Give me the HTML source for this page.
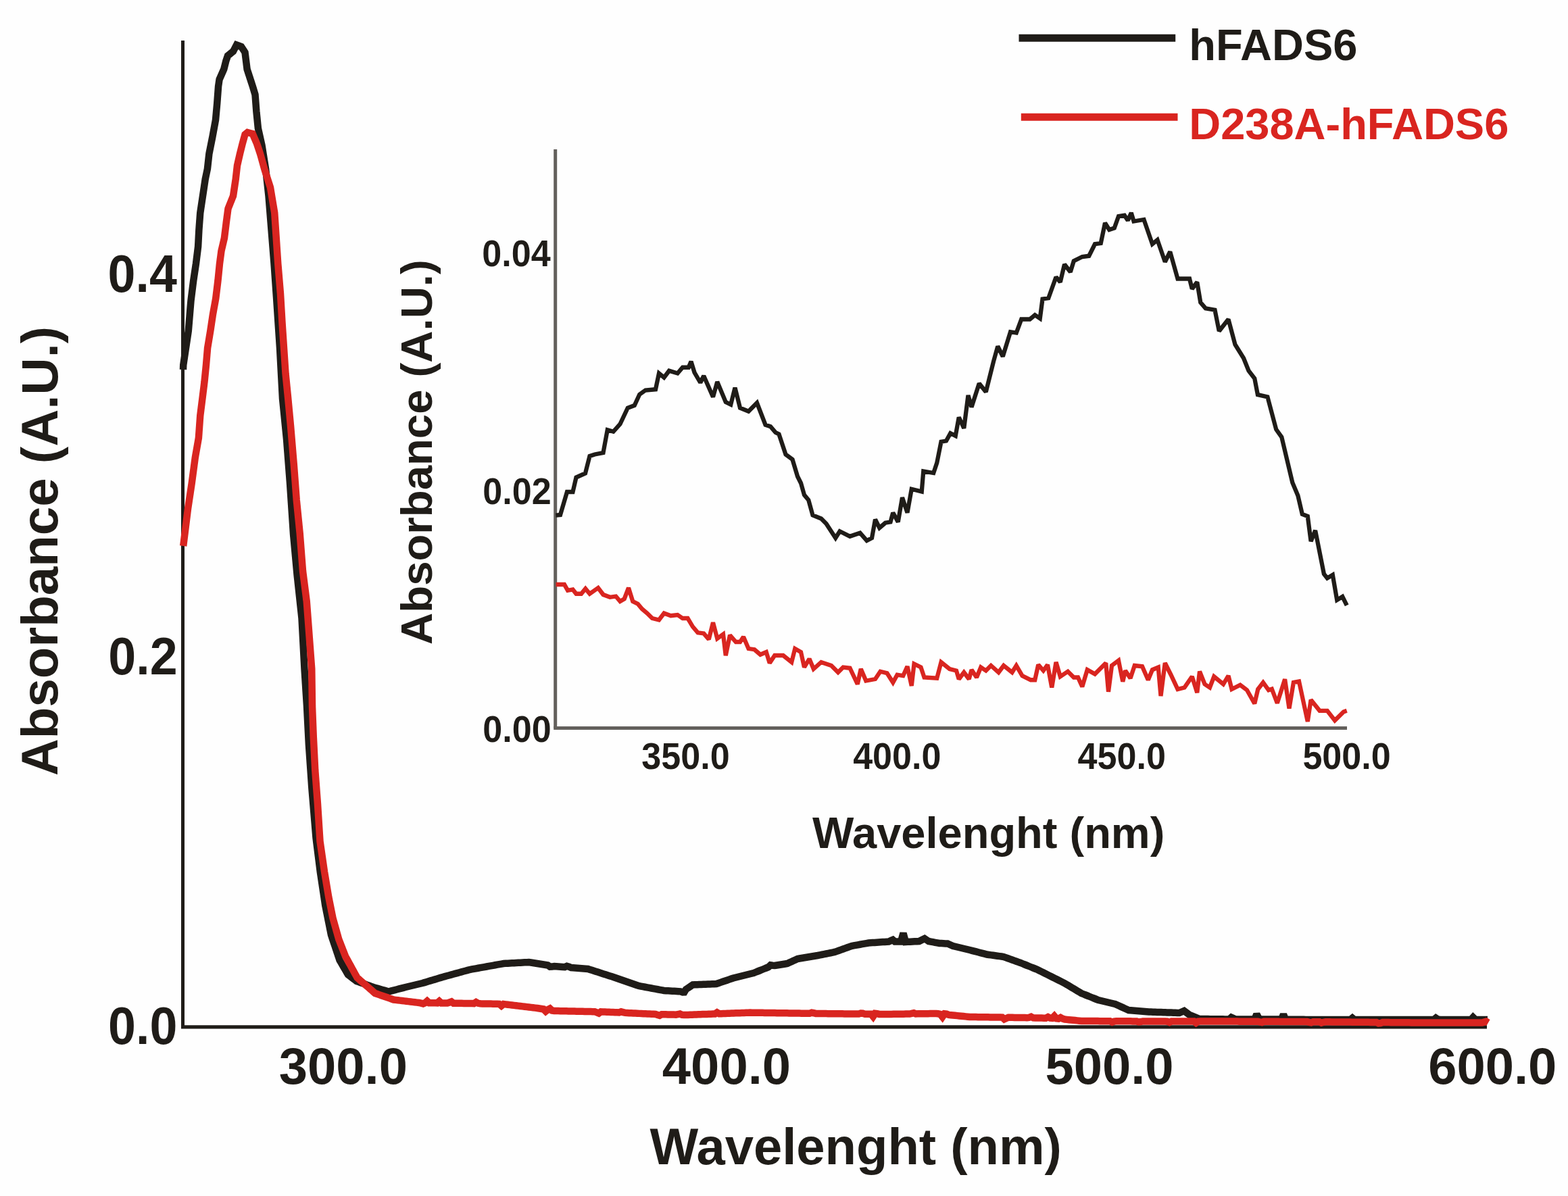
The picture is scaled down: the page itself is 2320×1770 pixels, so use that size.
<!DOCTYPE html>
<html><head><meta charset="utf-8"><title>Absorbance spectra hFADS6</title>
<style>html,body{margin:0;padding:0;background:#fefefe;} svg{display:block;}</style></head>
<body><svg width="2320" height="1770" viewBox="0 0 2320 1770">
<rect width="2320" height="1770" fill="#fefefe"/>
<line x1="270.5" y1="60" x2="270.5" y2="1520" stroke="#1f1c18" stroke-width="5"/>
<line x1="268" y1="1519.8" x2="2200" y2="1519.8" stroke="#1f1c18" stroke-width="5.2"/>
<line x1="821.7" y1="221" x2="821.7" y2="1077.6" stroke="#63605c" stroke-width="5"/>
<line x1="819.2" y1="1077.6" x2="1993" y2="1077.6" stroke="#63605c" stroke-width="5"/>
<polyline points="271.00,547.00 271.12,543.50 271.25,540.00 271.72,536.88 272.19,533.75 272.66,530.62 273.12,527.50 273.59,524.38 274.06,521.25 274.53,518.12 275.00,515.00 275.47,511.88 275.94,508.75 276.41,505.62 276.88,502.50 277.34,499.38 277.81,496.25 278.28,493.12 278.75,490.00 279.00,487.00 279.25,484.00 279.50,481.00 279.75,478.00 280.00,475.00 280.25,472.00 280.50,469.00 280.75,466.00 281.00,463.00 281.25,460.00 281.50,457.00 281.75,454.00 282.00,451.00 282.25,448.00 282.50,445.00 282.88,442.00 283.25,439.00 283.62,436.00 284.00,433.00 284.38,430.00 284.75,427.00 285.12,424.00 285.50,421.00 285.88,418.00 286.25,415.00 286.72,411.88 287.19,408.75 287.66,405.62 288.12,402.50 288.59,399.38 289.06,396.25 289.53,393.12 290.00,390.00 290.39,386.88 290.77,383.75 291.16,380.62 291.55,377.50 291.94,374.38 292.33,371.25 292.71,368.12 293.10,365.00 293.26,361.88 293.43,358.75 293.59,355.62 293.75,352.50 293.91,349.38 294.07,346.25 294.24,343.12 294.40,340.00 294.63,336.88 294.86,333.75 295.09,330.62 295.32,327.50 295.56,324.38 295.79,321.25 296.02,318.12 296.25,315.00 296.72,311.88 297.19,308.75 297.66,305.62 298.12,302.50 298.59,299.38 299.06,296.25 299.53,293.12 300.00,290.00 300.47,286.88 300.94,283.75 301.41,280.62 301.88,277.50 302.34,274.38 302.81,271.25 303.28,268.12 303.75,265.00 304.38,262.00 305.01,259.00 305.64,256.00 306.27,253.00 306.90,250.00 307.26,246.79 307.61,243.57 307.97,240.36 308.33,237.14 308.69,233.93 309.04,230.71 309.40,227.50 310.02,224.38 310.65,221.25 311.27,218.12 311.90,215.00 312.52,211.88 313.15,208.75 313.77,205.62 314.40,202.50 314.97,199.38 315.55,196.25 316.12,193.12 316.70,190.00 317.27,186.88 317.85,183.75 318.43,180.62 319.00,177.50 319.28,174.38 319.56,171.25 319.84,168.12 320.12,165.00 320.41,161.88 320.69,158.75 320.97,155.62 321.25,152.50 321.48,149.38 321.71,146.25 321.94,143.12 322.18,140.00 322.41,136.88 322.64,133.75 322.87,130.62 323.10,127.50 323.60,124.17 324.10,120.83 324.60,117.50 325.93,114.50 327.26,111.50 328.59,108.50 329.92,105.50 331.25,102.50 332.04,99.38 332.82,96.25 333.61,93.12 334.40,90.00 335.70,86.25 337.00,82.50 339.67,80.33 342.33,78.17 345.00,76.00 346.67,72.83 348.33,69.67 350.00,66.50 353.50,67.75 357.00,69.00 358.83,71.83 360.67,74.67 362.50,77.50 362.89,80.62 363.27,83.75 363.66,86.88 364.05,90.00 364.44,93.12 364.83,96.25 365.21,99.38 365.60,102.50 366.62,105.62 367.64,108.75 368.66,111.88 369.68,115.00 370.69,118.12 371.71,121.25 372.73,124.38 373.75,127.50 374.69,130.62 375.62,133.75 376.56,136.88 377.50,140.00 377.74,143.12 377.98,146.25 378.21,149.38 378.45,152.50 378.69,155.62 378.92,158.75 379.16,161.88 379.40,165.00 379.71,168.12 380.02,171.25 380.34,174.38 380.65,177.50 380.96,180.62 381.27,183.75 381.59,186.88 381.90,190.00 382.60,193.12 383.30,196.25 384.00,199.38 384.70,202.50 385.40,205.62 386.10,208.75 386.80,211.88 387.50,215.00 388.01,218.18 388.52,221.36 389.03,224.55 389.54,227.73 390.05,230.91 390.55,234.09 391.06,237.27 391.57,240.45 392.08,243.64 392.59,246.82 393.10,250.00 393.44,253.08 393.78,256.15 394.12,259.23 394.45,262.31 394.79,265.38 395.13,268.46 395.47,271.54 395.81,274.62 396.15,277.69 396.48,280.77 396.82,283.85 397.16,286.92 397.50,290.00 397.75,293.12 398.00,296.25 398.25,299.38 398.50,302.50 398.75,305.62 399.00,308.75 399.25,311.88 399.50,315.00 399.75,318.12 400.00,321.25 400.25,324.38 400.50,327.50 400.75,330.62 401.00,333.75 401.25,336.88 401.50,340.00 401.75,343.12 402.00,346.25 402.25,349.38 402.50,352.50 402.75,355.62 403.00,358.75 403.25,361.88 403.50,365.00 403.75,368.12 404.00,371.25 404.25,374.38 404.50,377.50 404.75,380.62 405.00,383.75 405.25,386.88 405.50,390.00 405.72,393.12 405.94,396.25 406.16,399.38 406.38,402.50 406.59,405.62 406.81,408.75 407.03,411.88 407.25,415.00 407.47,418.12 407.69,421.25 407.91,424.38 408.12,427.50 408.34,430.62 408.56,433.75 408.78,436.88 409.00,440.00 409.20,443.00 409.40,446.00 409.60,449.00 409.80,452.00 410.00,455.00 410.20,458.00 410.40,461.00 410.60,464.00 410.80,467.00 411.00,470.00 411.20,473.00 411.40,476.00 411.60,479.00 411.80,482.00 412.00,485.00 412.20,488.00 412.40,491.00 412.60,494.00 412.80,497.00 413.00,500.00 413.20,503.00 413.40,506.00 413.60,509.00 413.80,512.00 414.00,515.00 414.16,518.00 414.32,521.00 414.48,524.00 414.64,527.00 414.80,530.00 414.96,533.00 415.12,536.00 415.28,539.00 415.44,542.00 415.60,545.00 415.76,548.00 415.92,551.00 416.08,554.00 416.24,557.00 416.40,560.00 416.56,563.00 416.72,566.00 416.88,569.00 417.04,572.00 417.20,575.00 417.36,578.00 417.52,581.00 417.68,584.00 417.84,587.00 418.00,590.00 418.30,593.00 418.60,596.00 418.90,599.00 419.20,602.00 419.50,605.00 419.80,608.00 420.10,611.00 420.40,614.00 420.70,617.00 421.00,620.00 421.30,623.00 421.60,626.00 421.90,629.00 422.20,632.00 422.50,635.00 422.80,638.00 423.10,641.00 423.40,644.00 423.70,647.00 424.00,650.00 424.24,653.10 424.48,656.19 424.71,659.29 424.95,662.38 425.19,665.48 425.43,668.57 425.67,671.67 425.90,674.76 426.14,677.86 426.38,680.95 426.62,684.05 426.86,687.14 427.10,690.24 427.33,693.33 427.57,696.43 427.81,699.52 428.05,702.62 428.29,705.71 428.52,708.81 428.76,711.90 429.00,715.00 429.20,718.00 429.40,721.00 429.60,724.00 429.80,727.00 430.00,730.00 430.20,733.00 430.40,736.00 430.60,739.00 430.80,742.00 431.00,745.00 431.20,748.00 431.40,751.00 431.60,754.00 431.80,757.00 432.00,760.00 432.20,763.00 432.40,766.00 432.60,769.00 432.80,772.00 433.00,775.00 433.20,778.00 433.40,781.00 433.60,784.00 433.80,787.00 434.00,790.00 434.27,793.00 434.55,796.00 434.82,799.00 435.10,802.00 435.38,805.00 435.65,808.00 435.93,811.00 436.20,814.00 436.48,817.00 436.75,820.00 437.02,823.00 437.30,826.00 437.57,829.00 437.85,832.00 438.12,835.00 438.40,838.00 438.68,841.00 438.95,844.00 439.23,847.00 439.50,850.00 439.83,853.10 440.17,856.19 440.50,859.29 440.83,862.38 441.17,865.48 441.50,868.57 441.83,871.67 442.17,874.76 442.50,877.86 442.83,880.95 443.17,884.05 443.50,887.14 443.83,890.24 444.17,893.33 444.50,896.43 444.83,899.52 445.17,902.62 445.50,905.71 445.83,908.81 446.17,911.90 446.50,915.00 446.66,918.00 446.82,921.00 446.98,924.00 447.14,927.00 447.30,930.00 447.46,933.00 447.62,936.00 447.78,939.00 447.94,942.00 448.10,945.00 448.26,948.00 448.42,951.00 448.58,954.00 448.74,957.00 448.90,960.00 449.06,963.00 449.22,966.00 449.38,969.00 449.54,972.00 449.70,975.00 449.86,978.00 450.02,981.00 450.18,984.00 450.34,987.00 450.50,990.00 450.69,993.06 450.89,996.11 451.08,999.17 451.28,1002.22 451.47,1005.28 451.67,1008.33 451.86,1011.39 452.06,1014.44 452.25,1017.50 452.44,1020.56 452.64,1023.61 452.83,1026.67 453.03,1029.72 453.22,1032.78 453.42,1035.83 453.61,1038.89 453.81,1041.94 454.00,1045.00 454.15,1048.00 454.31,1051.00 454.46,1054.00 454.61,1057.00 454.76,1060.00 454.92,1063.00 455.07,1066.00 455.22,1069.00 455.37,1072.00 455.53,1075.00 455.68,1078.00 455.83,1081.00 455.98,1084.00 456.14,1087.00 456.29,1090.00 456.44,1093.00 456.59,1096.00 456.75,1099.00 456.90,1102.00 457.11,1105.00 457.31,1108.00 457.52,1111.00 457.73,1114.00 457.94,1117.00 458.14,1120.00 458.35,1123.00 458.56,1126.00 458.76,1129.00 458.97,1132.00 459.18,1135.00 459.39,1138.00 459.59,1141.00 459.80,1144.00 460.01,1147.00 460.21,1150.00 460.42,1153.00 460.63,1156.00 460.84,1159.00 461.04,1162.00 461.25,1165.00 461.50,1168.00 461.75,1171.00 462.00,1174.00 462.25,1177.00 462.50,1180.00 462.75,1183.00 463.00,1186.00 463.25,1189.00 463.50,1192.00 463.75,1195.00 464.00,1198.00 464.25,1201.00 464.50,1204.00 464.75,1207.00 465.00,1210.00 465.25,1213.00 465.50,1216.00 465.75,1219.00 466.00,1222.00 466.25,1225.00 466.50,1228.00 466.75,1231.00 467.00,1234.00 467.25,1237.00 467.50,1240.00 467.89,1243.12 468.28,1246.25 468.67,1249.38 469.06,1252.50 469.45,1255.62 469.84,1258.75 470.23,1261.88 470.62,1265.00 471.02,1268.12 471.41,1271.25 471.80,1274.38 472.19,1277.50 472.58,1280.62 472.97,1283.75 473.36,1286.88 473.75,1290.00 474.22,1293.12 474.69,1296.25 475.16,1299.38 475.62,1302.50 476.09,1305.62 476.56,1308.75 477.03,1311.88 477.50,1315.00 477.97,1318.12 478.44,1321.25 478.91,1324.38 479.38,1327.50 479.84,1330.62 480.31,1333.75 480.78,1336.88 481.25,1340.00 481.88,1343.12 482.50,1346.25 483.12,1349.38 483.75,1352.50 484.38,1355.62 485.00,1358.75 485.62,1361.88 486.25,1365.00 486.88,1368.12 487.50,1371.25 488.12,1374.38 488.75,1377.50 489.38,1380.62 490.00,1383.75 490.96,1386.62 491.92,1389.48 492.88,1392.35 493.85,1395.21 494.81,1398.08 495.77,1400.94 496.73,1403.81 497.69,1406.67 498.65,1409.54 499.62,1412.40 500.58,1415.27 501.54,1418.13 502.50,1421.00 504.06,1423.69 505.62,1426.38 507.19,1429.06 508.75,1431.75 510.31,1434.44 511.88,1437.12 513.44,1439.81 515.00,1442.50 517.50,1444.40 520.00,1446.30 522.50,1448.20 525.00,1450.10 527.50,1452.00 530.62,1453.12 533.75,1454.25 536.88,1455.38 540.00,1456.50 543.12,1457.62 546.25,1458.75 549.38,1459.88 552.50,1461.00 555.71,1461.93 558.93,1462.86 562.14,1463.79 565.36,1464.71 568.57,1465.64 571.79,1466.57 575.00,1467.50 578.12,1466.69 581.25,1465.88 584.38,1465.06 587.50,1464.25 590.62,1463.44 593.75,1462.62 596.88,1461.81 600.00,1461.00 603.12,1460.25 606.25,1459.50 609.38,1458.75 612.50,1458.00 615.62,1457.25 618.75,1456.50 621.88,1455.75 625.00,1455.00 628.00,1454.10 631.00,1453.20 634.00,1452.30 637.00,1451.40 640.00,1450.50 643.00,1449.60 646.00,1448.70 649.00,1447.80 652.00,1446.90 655.00,1446.00 658.08,1445.15 661.15,1444.31 664.23,1443.46 667.31,1442.62 670.38,1441.77 673.46,1440.92 676.54,1440.08 679.62,1439.23 682.69,1438.38 685.77,1437.54 688.85,1436.69 691.92,1435.85 695.00,1435.00 698.12,1434.44 701.25,1433.88 704.38,1433.31 707.50,1432.75 710.62,1432.19 713.75,1431.62 716.88,1431.06 720.00,1430.50 723.12,1429.94 726.25,1429.38 729.38,1428.81 732.50,1428.25 735.62,1427.69 738.75,1427.12 741.88,1426.56 745.00,1426.00 748.12,1425.83 751.25,1425.67 754.38,1425.50 757.50,1425.33 760.62,1425.17 763.75,1425.00 766.88,1424.83 770.00,1424.67 773.12,1424.50 776.25,1424.33 779.38,1424.17 782.50,1424.00 785.62,1424.50 788.75,1425.00 791.88,1425.50 795.00,1426.00 798.12,1426.50 801.25,1427.00 804.38,1427.50 807.50,1428.00 810.62,1428.50 813.75,1430.75 816.88,1430.62 820.00,1430.00 823.12,1430.25 826.25,1430.50 829.38,1430.75 832.50,1431.00 835.62,1431.25 838.75,1429.75 841.88,1430.62 845.00,1432.00 848.12,1432.25 851.25,1432.50 854.38,1432.75 857.50,1433.00 860.62,1433.25 863.75,1433.50 866.88,1433.75 870.00,1434.00 872.88,1434.92 875.77,1435.85 878.65,1436.77 881.54,1437.69 884.42,1438.62 887.31,1439.54 890.19,1440.46 893.08,1441.38 895.96,1442.31 898.85,1443.23 901.73,1444.15 904.62,1445.08 907.50,1446.00 910.38,1447.00 913.27,1448.00 916.15,1449.00 919.04,1450.00 921.92,1451.00 924.81,1452.00 927.69,1453.00 930.58,1454.00 933.46,1455.00 936.35,1456.00 939.23,1457.00 942.12,1458.00 945.00,1459.00 948.12,1459.58 951.25,1460.17 954.38,1460.75 957.50,1461.33 960.62,1461.92 963.75,1462.50 966.88,1463.08 970.00,1463.67 973.12,1464.25 976.25,1464.83 979.38,1465.42 982.50,1466.00 985.56,1466.17 988.61,1466.33 991.67,1466.50 994.72,1466.67 997.78,1466.83 1000.83,1467.00 1003.89,1467.17 1006.94,1467.33 1010.00,1468.50 1012.50,1468.33 1015.00,1464.17 1017.50,1462.50 1020.00,1460.83 1022.50,1459.17 1025.00,1457.50 1028.18,1457.36 1031.36,1457.23 1034.55,1457.09 1037.73,1456.95 1040.91,1456.82 1044.09,1456.68 1047.27,1456.55 1050.45,1456.41 1053.64,1456.27 1056.82,1456.14 1060.00,1456.00 1063.12,1454.94 1066.25,1453.88 1069.38,1452.81 1072.50,1451.75 1075.62,1450.69 1078.75,1449.62 1081.88,1448.56 1085.00,1447.50 1088.00,1446.75 1091.00,1446.00 1094.00,1445.25 1097.00,1444.50 1100.00,1443.75 1103.00,1443.00 1106.00,1442.25 1109.00,1441.50 1112.00,1440.75 1115.00,1440.00 1118.12,1438.75 1121.25,1437.50 1124.38,1436.25 1127.50,1435.00 1130.62,1433.75 1133.75,1432.50 1136.88,1431.25 1140.00,1428.33 1143.12,1428.77 1146.25,1429.00 1149.38,1428.50 1152.50,1428.00 1155.62,1427.50 1158.75,1427.00 1161.88,1426.50 1165.00,1426.00 1168.00,1424.60 1171.00,1423.20 1174.00,1421.80 1177.00,1420.40 1180.00,1419.00 1183.00,1418.50 1186.00,1418.00 1189.00,1417.50 1192.00,1417.00 1195.00,1416.50 1198.00,1416.00 1201.00,1415.50 1204.00,1415.00 1207.00,1414.50 1210.00,1414.00 1213.12,1413.38 1216.25,1412.75 1219.38,1412.12 1222.50,1411.50 1225.62,1410.88 1228.75,1410.25 1231.88,1409.62 1235.00,1409.00 1238.12,1407.88 1241.25,1406.75 1244.38,1405.62 1247.50,1404.50 1250.62,1403.38 1253.75,1402.25 1256.88,1401.12 1260.00,1400.00 1263.12,1399.44 1266.25,1398.88 1269.38,1398.31 1272.50,1397.75 1275.62,1397.19 1278.75,1396.62 1281.88,1396.06 1285.00,1395.50 1288.00,1395.30 1291.00,1395.10 1294.00,1394.90 1297.00,1394.70 1300.00,1394.50 1303.00,1394.30 1306.00,1394.10 1309.00,1393.90 1312.00,1393.70 1315.00,1393.50 1318.00,1392.17 1321.00,1390.83 1324.00,1393.50 1327.00,1393.50 1330.00,1393.50 1333.00,1393.50 1333.88,1390.38 1334.75,1387.25 1335.62,1384.12 1336.50,1381.00 1337.38,1384.25 1338.25,1387.50 1339.12,1390.75 1340.00,1394.00 1343.33,1393.83 1346.67,1393.67 1350.00,1393.50 1353.33,1393.33 1356.67,1393.17 1360.00,1393.00 1364.00,1391.00 1368.00,1389.00 1371.00,1391.00 1374.00,1393.00 1377.20,1393.60 1380.40,1394.20 1383.60,1394.80 1386.80,1395.40 1390.00,1396.00 1393.00,1396.12 1396.00,1396.25 1399.00,1396.38 1402.00,1396.50 1406.00,1398.25 1410.00,1400.00 1413.12,1400.75 1416.25,1401.50 1419.38,1402.25 1422.50,1403.00 1425.62,1403.75 1428.75,1404.50 1431.88,1405.25 1435.00,1406.00 1438.12,1406.81 1441.25,1407.62 1444.38,1408.44 1447.50,1409.25 1450.62,1410.06 1453.75,1410.88 1456.88,1411.69 1460.00,1412.50 1463.12,1412.94 1466.25,1413.38 1469.38,1413.81 1472.50,1414.25 1475.62,1414.69 1478.75,1415.12 1481.88,1415.56 1485.00,1416.00 1488.12,1417.12 1491.25,1418.25 1494.38,1419.38 1497.50,1420.50 1500.62,1421.62 1503.75,1422.75 1506.88,1423.88 1510.00,1425.00 1513.12,1426.25 1516.25,1427.50 1519.38,1428.75 1522.50,1430.00 1525.62,1431.25 1528.75,1432.50 1531.88,1433.75 1535.00,1435.00 1537.86,1436.43 1540.71,1437.86 1543.57,1439.29 1546.43,1440.71 1549.29,1442.14 1552.14,1443.57 1555.00,1445.00 1557.86,1446.43 1560.71,1447.86 1563.57,1449.29 1566.43,1450.71 1569.29,1452.14 1572.14,1453.57 1575.00,1455.00 1577.78,1456.67 1580.56,1458.33 1583.33,1460.00 1586.11,1461.67 1588.89,1463.33 1591.67,1465.00 1594.44,1466.67 1597.22,1468.33 1600.00,1470.00 1603.12,1471.25 1606.25,1472.50 1609.38,1473.75 1612.50,1475.00 1615.62,1476.25 1618.75,1477.50 1621.88,1478.75 1625.00,1480.00 1628.12,1480.75 1631.25,1481.50 1634.38,1482.25 1637.50,1483.00 1640.62,1483.75 1643.75,1484.50 1646.88,1485.25 1650.00,1486.00 1652.86,1487.29 1655.71,1488.57 1658.57,1489.86 1661.43,1491.14 1664.29,1492.43 1667.14,1493.71 1670.00,1495.00 1673.00,1495.25 1676.00,1495.50 1679.00,1495.75 1682.00,1496.00 1685.00,1496.25 1688.00,1496.50 1691.00,1496.75 1694.00,1497.00 1697.00,1497.25 1700.00,1497.50 1703.00,1497.60 1706.00,1497.70 1709.00,1497.80 1712.00,1497.90 1715.00,1498.00 1718.00,1498.10 1721.00,1498.20 1724.00,1498.30 1727.00,1498.40 1730.00,1498.50 1733.00,1498.60 1736.00,1498.70 1739.00,1498.80 1742.00,1498.90 1745.00,1499.00 1748.50,1497.50 1752.00,1496.00 1754.67,1498.00 1757.33,1500.00 1760.00,1502.00 1763.00,1503.20 1766.00,1504.40 1769.00,1505.60 1772.00,1506.80 1775.00,1508.00 1778.12,1508.03 1781.25,1508.06 1784.38,1508.09 1787.50,1508.12 1790.62,1508.16 1793.75,1508.19 1796.88,1508.22 1800.00,1508.25 1803.12,1508.28 1806.25,1508.31 1809.38,1508.34 1812.50,1508.38 1815.62,1508.41 1818.75,1508.44 1821.88,1505.66 1825.00,1507.00 1828.12,1508.50 1831.25,1508.50 1834.38,1508.50 1837.50,1508.50 1840.62,1508.50 1843.75,1508.50 1846.88,1508.50 1850.00,1508.50 1853.12,1508.50 1856.25,1508.50 1859.38,1500.98 1862.50,1506.92 1865.62,1508.50 1868.75,1508.50 1871.88,1508.50 1875.00,1508.50 1878.00,1508.52 1881.00,1508.54 1884.00,1508.56 1887.00,1508.58 1890.00,1508.60 1893.00,1508.62 1896.00,1508.64 1899.00,1501.16 1902.00,1508.68 1905.00,1508.70 1908.00,1508.72 1911.00,1508.74 1914.00,1508.76 1917.00,1508.78 1920.00,1508.80 1923.00,1508.82 1926.00,1508.84 1929.00,1508.86 1932.00,1508.88 1935.00,1508.90 1938.00,1508.92 1941.00,1508.94 1944.00,1508.96 1947.00,1508.98 1950.00,1509.00 1953.00,1509.00 1956.00,1509.00 1959.00,1509.00 1962.00,1509.00 1965.00,1509.00 1968.00,1509.00 1971.00,1509.00 1974.00,1509.00 1977.00,1509.00 1980.00,1509.00 1983.00,1509.00 1986.00,1509.00 1989.00,1509.00 1992.00,1509.00 1995.00,1509.00 1998.00,1509.00 2001.00,1506.50 2004.00,1509.00 2007.00,1509.00 2010.00,1509.00 2013.00,1509.00 2016.00,1509.00 2019.00,1509.00 2022.00,1509.00 2025.00,1509.00 2028.00,1509.00 2031.00,1509.00 2034.00,1509.00 2037.00,1509.00 2040.00,1509.00 2043.00,1509.00 2046.00,1509.00 2049.00,1509.00 2052.00,1509.00 2055.00,1509.00 2058.00,1509.00 2061.00,1509.00 2064.00,1509.00 2067.00,1509.00 2070.00,1509.00 2073.00,1509.00 2076.00,1509.00 2079.00,1509.00 2082.00,1509.00 2085.00,1509.00 2088.00,1509.00 2091.00,1509.00 2094.00,1509.00 2097.00,1509.00 2100.00,1509.00 2103.06,1509.00 2106.12,1509.00 2109.18,1509.00 2112.24,1509.00 2115.30,1509.00 2118.36,1509.00 2121.42,1509.00 2124.48,1506.52 2127.55,1508.55 2130.61,1509.00 2133.67,1509.00 2136.73,1509.00 2139.79,1509.00 2142.85,1509.00 2145.91,1509.00 2148.97,1509.00 2152.03,1509.00 2155.09,1509.00 2158.15,1509.00 2161.21,1509.00 2164.27,1509.00 2167.33,1509.00 2170.39,1509.00 2173.45,1509.00 2176.52,1509.00 2179.58,1505.57 2182.64,1508.52 2185.70,1509.00 2188.76,1509.00 2191.82,1509.00 2194.88,1509.00 2197.94,1509.00 2201.00,1509.00" fill="none" stroke="#1f1c18" stroke-width="10.5" stroke-linejoin="miter" stroke-miterlimit="2"/>
<polyline points="271.20,808.00 271.58,804.92 271.97,801.83 272.35,798.75 272.73,795.67 273.12,792.58 273.50,789.50 273.88,786.42 274.27,783.33 274.65,780.25 275.03,777.17 275.42,774.08 275.80,771.00 276.18,767.92 276.57,764.83 276.95,761.75 277.33,758.67 277.72,755.58 278.10,752.50 278.57,749.38 279.04,746.25 279.51,743.12 279.98,740.00 280.45,736.88 280.93,733.75 281.40,730.62 281.87,727.50 282.34,724.38 282.81,721.25 283.28,718.12 283.75,715.00 284.17,711.88 284.58,708.75 285.00,705.62 285.42,702.50 285.83,699.38 286.25,696.25 286.67,693.12 287.08,690.00 287.50,686.88 287.92,683.75 288.33,680.62 288.75,677.50 289.32,674.22 289.89,670.94 290.47,667.67 291.04,664.39 291.61,661.11 292.18,657.83 292.76,654.56 293.33,651.28 293.90,648.00 294.11,645.00 294.33,642.00 294.54,639.00 294.75,636.00 294.97,633.00 295.18,630.00 295.40,627.00 295.61,624.00 295.82,621.00 296.04,618.00 296.25,615.00 296.64,611.88 297.04,608.75 297.43,605.62 297.82,602.50 298.22,599.38 298.61,596.25 299.01,593.12 299.40,590.00 299.79,586.88 300.17,583.75 300.56,580.62 300.95,577.50 301.34,574.38 301.73,571.25 302.11,568.12 302.50,565.00 302.81,561.88 303.12,558.75 303.44,555.62 303.75,552.50 304.06,549.38 304.38,546.25 304.69,543.12 305.00,540.00 305.26,536.88 305.52,533.75 305.79,530.62 306.05,527.50 306.31,524.38 306.58,521.25 306.84,518.12 307.10,515.00 307.62,511.88 308.14,508.75 308.66,505.62 309.18,502.50 309.69,499.38 310.21,496.25 310.73,493.12 311.25,490.00 311.72,486.88 312.19,483.75 312.66,480.62 313.12,477.50 313.59,474.38 314.06,471.25 314.53,468.12 315.00,465.00 315.60,461.71 316.20,458.43 316.80,455.14 317.40,451.86 318.00,448.57 318.60,445.29 319.20,442.00 319.57,439.00 319.93,436.00 320.30,433.00 320.67,430.00 321.03,427.00 321.40,424.00 321.77,421.00 322.13,418.00 322.50,415.00 322.81,411.88 323.12,408.75 323.44,405.62 323.75,402.50 324.06,399.38 324.38,396.25 324.69,393.12 325.00,390.00 325.42,386.88 325.83,383.75 326.25,380.62 326.67,377.50 327.08,374.38 327.50,371.25 328.23,368.12 328.97,365.00 329.70,361.88 330.43,358.75 331.17,355.62 331.90,352.50 332.29,349.38 332.67,346.25 333.06,343.12 333.45,340.00 333.84,336.88 334.23,333.75 334.61,330.62 335.00,327.50 335.42,324.38 335.83,321.25 336.25,318.12 336.67,315.00 337.08,311.88 337.50,308.75 338.75,305.62 340.00,302.50 341.25,299.38 342.50,296.25 343.75,293.12 345.00,290.00 345.47,286.88 345.94,283.75 346.41,280.62 346.88,277.50 347.34,274.38 347.81,271.25 348.28,268.12 348.75,265.00 349.12,261.67 349.50,258.33 349.88,255.00 350.25,251.67 350.62,248.33 351.00,245.00 351.80,241.50 352.60,238.00 353.40,234.50 354.20,231.00 355.00,227.50 355.75,224.50 356.50,221.50 357.25,218.50 358.00,215.50 358.75,212.50 359.69,209.12 360.62,205.75 361.56,202.38 362.50,199.00 366.25,196.00 370.00,197.00 373.75,198.00 375.00,200.90 376.25,203.80 377.50,206.70 378.75,209.60 380.00,212.50 381.00,215.50 382.00,218.50 383.00,221.50 384.00,224.50 385.00,227.50 385.89,230.71 386.79,233.93 387.68,237.14 388.57,240.36 389.46,243.57 390.36,246.79 391.25,250.00 392.22,253.06 393.19,256.11 394.17,259.17 395.14,262.22 396.11,265.28 397.08,268.33 398.06,271.39 399.03,274.44 400.00,277.50 400.52,280.62 401.04,283.75 401.56,286.88 402.08,290.00 402.60,293.12 403.12,296.25 403.65,299.38 404.17,302.50 404.69,305.62 405.21,308.75 405.73,311.88 406.25,315.00 406.46,318.12 406.67,321.25 406.88,324.38 407.08,327.50 407.29,330.62 407.50,333.75 407.71,336.88 407.92,340.00 408.12,343.12 408.33,346.25 408.54,349.38 408.75,352.50 408.96,355.62 409.17,358.75 409.38,361.88 409.58,365.00 409.79,368.12 410.00,371.25 410.21,374.38 410.42,377.50 410.62,380.62 410.83,383.75 411.04,386.88 411.25,390.00 411.50,393.00 411.75,396.00 412.00,399.00 412.25,402.00 412.50,405.00 412.75,408.00 413.00,411.00 413.25,414.00 413.50,417.00 413.75,420.00 414.00,423.00 414.25,426.00 414.50,429.00 414.75,432.00 415.00,435.00 415.18,438.04 415.36,441.07 415.54,444.11 415.71,447.14 415.89,450.18 416.07,453.21 416.25,456.25 416.43,459.29 416.61,462.32 416.79,465.36 416.96,468.39 417.14,471.43 417.32,474.46 417.50,477.50 417.71,480.62 417.92,483.75 418.12,486.88 418.33,490.00 418.54,493.12 418.75,496.25 418.96,499.38 419.17,502.50 419.38,505.62 419.58,508.75 419.79,511.88 420.00,515.00 420.21,518.12 420.42,521.25 420.62,524.38 420.83,527.50 421.04,530.62 421.25,533.75 421.46,536.88 421.67,540.00 421.88,543.12 422.08,546.25 422.29,549.38 422.50,552.50 422.81,555.62 423.12,558.75 423.44,561.88 423.75,565.00 424.06,568.12 424.38,571.25 424.69,574.38 425.00,577.50 425.31,580.62 425.62,583.75 425.94,586.88 426.25,590.00 426.54,593.08 426.83,596.15 427.12,599.23 427.40,602.31 427.69,605.38 427.98,608.46 428.27,611.54 428.56,614.62 428.85,617.69 429.13,620.77 429.42,623.85 429.71,626.92 430.00,630.00 430.25,633.00 430.50,636.00 430.75,639.00 431.00,642.00 431.25,645.00 431.50,648.00 431.75,651.00 432.00,654.00 432.25,657.00 432.50,660.00 432.75,663.00 433.00,666.00 433.25,669.00 433.50,672.00 433.75,675.00 434.00,678.00 434.25,681.00 434.50,684.00 434.75,687.00 435.00,690.00 435.23,693.12 435.47,696.25 435.70,699.38 435.94,702.50 436.17,705.62 436.41,708.75 436.64,711.88 436.88,715.00 437.11,718.12 437.34,721.25 437.58,724.38 437.81,727.50 438.05,730.62 438.28,733.75 438.52,736.88 438.75,740.00 439.06,743.12 439.38,746.25 439.69,749.38 440.00,752.50 440.31,755.62 440.62,758.75 440.94,761.88 441.25,765.00 441.56,768.12 441.88,771.25 442.19,774.38 442.50,777.50 442.81,780.62 443.12,783.75 443.44,786.88 443.75,790.00 443.99,793.06 444.22,796.11 444.46,799.17 444.69,802.22 444.93,805.28 445.17,808.33 445.40,811.39 445.64,814.44 445.88,817.50 446.11,820.56 446.35,823.61 446.58,826.67 446.82,829.72 447.06,832.78 447.29,835.83 447.53,838.89 447.76,841.94 448.00,845.00 448.38,848.00 448.77,851.00 449.15,854.00 449.53,857.00 449.92,860.00 450.30,863.00 450.68,866.00 451.07,869.00 451.45,872.00 451.83,875.00 452.22,878.00 452.60,881.00 452.98,884.00 453.37,887.00 453.75,890.00 453.98,893.12 454.22,896.25 454.45,899.38 454.69,902.50 454.92,905.62 455.16,908.75 455.39,911.88 455.62,915.00 455.86,918.12 456.09,921.25 456.33,924.38 456.56,927.50 456.80,930.62 457.03,933.75 457.27,936.88 457.50,940.00 457.73,943.12 457.97,946.25 458.20,949.38 458.44,952.50 458.67,955.62 458.91,958.75 459.14,961.88 459.38,965.00 459.61,968.12 459.84,971.25 460.08,974.38 460.31,977.50 460.55,980.62 460.78,983.75 461.02,986.88 461.25,990.00 461.29,993.06 461.33,996.11 461.38,999.17 461.42,1002.22 461.46,1005.28 461.50,1008.33 461.54,1011.39 461.58,1014.44 461.62,1017.50 461.67,1020.56 461.71,1023.61 461.75,1026.67 461.79,1029.72 461.83,1032.78 461.88,1035.83 461.92,1038.89 461.96,1041.94 462.00,1045.00 462.12,1048.00 462.23,1051.00 462.35,1054.00 462.47,1057.00 462.58,1060.00 462.70,1063.00 462.82,1066.00 462.93,1069.00 463.05,1072.00 463.17,1075.00 463.28,1078.00 463.40,1081.00 463.52,1084.00 463.63,1087.00 463.75,1090.00 463.91,1093.12 464.06,1096.25 464.22,1099.38 464.38,1102.50 464.53,1105.62 464.69,1108.75 464.84,1111.88 465.00,1115.00 465.16,1118.12 465.31,1121.25 465.47,1124.38 465.62,1127.50 465.78,1130.62 465.94,1133.75 466.09,1136.88 466.25,1140.00 466.48,1143.12 466.72,1146.25 466.95,1149.38 467.19,1152.50 467.42,1155.62 467.66,1158.75 467.89,1161.88 468.12,1165.00 468.36,1168.12 468.59,1171.25 468.83,1174.38 469.06,1177.50 469.30,1180.62 469.53,1183.75 469.77,1186.88 470.00,1190.00 470.19,1193.06 470.39,1196.11 470.58,1199.17 470.78,1202.22 470.97,1205.28 471.17,1208.33 471.36,1211.39 471.56,1214.44 471.75,1217.50 471.94,1220.56 472.14,1223.61 472.33,1226.67 472.53,1229.72 472.72,1232.78 472.92,1235.83 473.11,1238.89 473.31,1241.94 473.50,1245.00 473.93,1248.00 474.37,1251.00 474.80,1254.00 475.23,1257.00 475.67,1260.00 476.10,1263.00 476.53,1266.00 476.97,1269.00 477.40,1272.00 477.83,1275.00 478.27,1278.00 478.70,1281.00 479.13,1284.00 479.57,1287.00 480.00,1290.00 480.52,1293.12 481.04,1296.25 481.56,1299.38 482.08,1302.50 482.60,1305.62 483.12,1308.75 483.65,1311.88 484.17,1315.00 484.69,1318.12 485.21,1321.25 485.73,1324.38 486.25,1327.50 486.88,1330.62 487.50,1333.75 488.12,1336.88 488.75,1340.00 489.38,1343.12 490.00,1346.25 490.62,1349.38 491.25,1352.50 491.88,1355.62 492.50,1358.75 493.38,1361.88 494.25,1365.00 495.12,1368.12 496.00,1371.25 496.88,1374.38 497.75,1377.50 498.62,1380.62 499.50,1383.75 500.38,1386.88 501.25,1390.00 502.47,1393.12 503.69,1396.25 504.91,1399.38 506.12,1402.50 507.34,1405.62 508.56,1408.75 509.78,1411.88 511.00,1415.00 512.46,1417.67 513.92,1420.33 515.38,1423.00 516.83,1425.67 518.29,1428.33 519.75,1431.00 521.21,1433.67 522.67,1436.33 524.12,1439.00 525.58,1441.67 527.04,1444.33 528.50,1447.00 530.91,1449.09 533.32,1451.18 535.73,1453.27 538.14,1455.36 540.55,1457.45 542.95,1459.55 545.36,1461.64 547.77,1463.73 550.18,1465.82 552.59,1467.91 555.00,1470.00 558.06,1471.06 561.11,1472.11 564.17,1473.17 567.22,1474.22 570.28,1475.28 573.33,1476.33 576.39,1477.39 579.44,1478.44 582.50,1479.50 585.62,1479.88 588.75,1480.25 591.88,1480.62 595.00,1481.00 598.12,1481.38 601.25,1481.75 604.38,1482.12 607.50,1482.50 610.62,1482.88 613.75,1483.25 616.88,1483.62 620.00,1484.00 623.00,1484.69 626.00,1485.38 629.00,1484.12 632.00,1481.56 635.00,1484.20 638.00,1484.24 641.00,1484.28 644.00,1484.32 647.00,1484.36 650.00,1481.80 653.00,1484.44 656.00,1484.48 659.00,1484.52 662.00,1484.56 665.00,1483.52 668.00,1482.47 671.00,1484.68 674.00,1484.72 677.00,1484.76 680.00,1484.80 683.00,1484.84 686.00,1484.88 689.00,1484.92 692.00,1484.96 695.00,1485.00 698.12,1485.06 701.25,1485.12 704.38,1483.13 707.50,1484.82 710.62,1485.31 713.75,1485.38 716.88,1485.44 720.00,1485.50 723.12,1485.56 726.25,1485.62 729.38,1485.69 732.50,1485.75 735.62,1485.81 738.75,1485.88 741.88,1488.43 745.00,1486.00 748.12,1486.38 751.25,1486.75 754.38,1487.12 757.50,1487.50 760.62,1487.88 763.75,1488.25 766.88,1488.62 770.00,1489.00 773.12,1489.38 776.25,1489.75 779.38,1490.12 782.50,1490.50 785.62,1490.88 788.75,1491.25 791.88,1491.62 795.00,1492.00 798.12,1492.50 801.25,1493.00 804.38,1493.50 807.50,1496.71 810.62,1494.23 813.75,1492.56 816.88,1495.50 820.00,1496.00 823.00,1496.06 826.00,1496.12 829.00,1496.18 832.00,1496.24 835.00,1496.30 838.00,1496.36 841.00,1496.42 844.00,1496.48 847.00,1496.54 850.00,1496.60 853.00,1496.66 856.00,1496.72 859.00,1496.78 862.00,1496.84 865.00,1496.90 868.00,1496.96 871.00,1497.02 874.00,1497.08 877.00,1497.14 880.00,1497.20 883.00,1498.34 886.00,1499.49 889.00,1497.38 892.00,1497.44 895.00,1497.50 898.00,1497.64 901.00,1497.78 904.00,1497.92 907.00,1498.06 910.00,1498.20 913.00,1498.34 916.00,1498.48 919.00,1497.32 922.00,1498.11 925.00,1498.90 928.00,1499.04 931.00,1499.18 934.00,1499.32 937.00,1499.46 940.00,1499.60 943.00,1499.74 946.00,1499.88 949.00,1500.02 952.00,1500.16 955.00,1500.30 958.00,1500.44 961.00,1500.58 964.00,1500.72 967.00,1500.86 970.00,1501.00 973.00,1501.93 976.00,1502.87 979.00,1501.20 982.00,1501.27 985.00,1501.33 988.00,1501.40 991.00,1501.47 994.00,1501.53 997.00,1501.60 1000.00,1501.67 1003.00,1501.08 1006.00,1500.50 1009.00,1501.87 1012.00,1501.93 1015.00,1502.00 1018.06,1501.89 1021.13,1501.78 1024.19,1501.67 1027.26,1501.56 1030.32,1501.45 1033.39,1501.34 1036.45,1501.23 1039.52,1501.12 1042.58,1501.01 1045.65,1500.90 1048.71,1500.79 1051.77,1500.68 1054.84,1500.57 1057.90,1500.46 1060.97,1498.43 1064.03,1500.25 1067.10,1500.14 1070.16,1500.03 1073.23,1499.92 1076.29,1499.81 1079.35,1499.70 1082.42,1499.59 1085.48,1499.48 1088.55,1499.37 1091.61,1499.26 1094.68,1499.15 1097.74,1499.04 1100.81,1498.93 1103.87,1498.82 1106.94,1498.71 1110.00,1498.60 1113.03,1498.64 1116.06,1498.68 1119.09,1498.73 1122.12,1498.77 1125.15,1498.81 1128.18,1498.85 1131.21,1498.90 1134.24,1498.94 1137.27,1498.98 1140.30,1499.02 1143.33,1499.07 1146.36,1499.11 1149.39,1499.15 1152.42,1499.19 1155.45,1499.24 1158.48,1499.28 1161.52,1499.32 1164.55,1499.36 1167.58,1499.41 1170.61,1499.45 1173.64,1499.49 1176.67,1499.53 1179.70,1499.58 1182.73,1499.62 1185.76,1499.66 1188.79,1499.70 1191.82,1499.75 1194.85,1499.79 1197.88,1499.83 1200.91,1498.63 1203.94,1499.23 1206.97,1499.96 1210.00,1500.00 1213.03,1500.03 1216.06,1500.06 1219.09,1500.09 1222.12,1500.12 1225.15,1500.15 1228.18,1500.18 1231.21,1500.21 1234.24,1500.24 1237.27,1500.27 1240.30,1500.30 1243.33,1500.33 1246.36,1500.36 1249.39,1500.39 1252.42,1500.42 1255.45,1500.45 1258.48,1500.48 1261.52,1500.52 1264.55,1500.55 1267.58,1500.58 1270.61,1500.61 1273.64,1499.57 1276.67,1499.80 1279.70,1500.70 1282.73,1500.73 1285.76,1500.76 1288.79,1500.79 1291.82,1504.48 1294.85,1499.84 1297.88,1500.15 1300.91,1500.91 1303.94,1500.94 1306.97,1500.97 1310.00,1501.00 1313.00,1500.96 1316.00,1500.92 1319.00,1500.88 1322.00,1500.84 1325.00,1500.80 1328.00,1500.76 1331.00,1500.72 1334.00,1500.68 1337.00,1500.64 1340.00,1500.60 1343.00,1500.56 1346.00,1500.52 1349.00,1499.83 1352.00,1499.14 1355.00,1500.40 1358.00,1500.36 1361.00,1500.32 1364.00,1500.28 1367.00,1500.24 1370.00,1500.20 1373.00,1500.16 1376.00,1500.12 1379.00,1500.08 1382.00,1500.04 1385.00,1500.00 1388.12,1500.31 1391.25,1501.00 1394.38,1504.92 1397.50,1500.28 1400.62,1500.67 1403.75,1501.88 1406.88,1502.19 1410.00,1502.50 1413.12,1502.81 1416.25,1503.12 1419.38,1503.44 1422.50,1503.75 1425.62,1504.06 1428.75,1504.38 1431.88,1504.69 1435.00,1505.00 1438.00,1505.04 1441.00,1505.08 1444.00,1505.12 1447.00,1505.16 1450.00,1505.20 1453.00,1505.24 1456.00,1505.28 1459.00,1505.32 1462.00,1505.36 1465.00,1505.40 1468.00,1505.44 1471.00,1505.48 1474.00,1505.52 1477.00,1505.56 1480.00,1505.60 1483.00,1505.64 1486.00,1508.28 1489.00,1507.02 1492.00,1505.76 1495.00,1505.80 1498.00,1505.84 1501.00,1505.88 1504.00,1505.92 1507.00,1505.96 1510.00,1506.00 1513.12,1506.06 1516.25,1506.12 1519.38,1506.19 1522.50,1505.92 1525.62,1504.77 1528.75,1506.38 1531.88,1506.44 1535.00,1506.50 1538.12,1506.56 1541.25,1506.62 1544.38,1506.69 1547.50,1506.75 1550.62,1505.11 1553.75,1506.71 1556.88,1506.94 1560.00,1503.75 1563.08,1507.31 1566.15,1507.62 1569.23,1505.99 1572.31,1507.63 1575.38,1508.54 1578.46,1508.85 1581.54,1509.15 1584.62,1509.46 1587.69,1509.77 1590.77,1510.08 1593.85,1510.38 1596.92,1510.69 1600.00,1511.00 1603.03,1511.02 1606.06,1511.03 1609.09,1511.05 1612.12,1511.06 1615.15,1511.08 1618.18,1511.09 1621.21,1511.11 1624.24,1511.12 1627.27,1511.14 1630.30,1511.15 1633.33,1511.17 1636.36,1511.18 1639.39,1511.20 1642.42,1511.21 1645.45,1512.82 1648.48,1511.58 1651.52,1511.26 1654.55,1511.27 1657.58,1511.29 1660.61,1511.30 1663.64,1511.32 1666.67,1511.33 1669.70,1511.35 1672.73,1511.36 1675.76,1511.38 1678.79,1511.39 1681.82,1511.41 1684.85,1512.43 1687.88,1512.05 1690.91,1511.45 1693.94,1511.47 1696.97,1511.48 1700.00,1511.50 1703.03,1511.50 1706.06,1511.50 1709.09,1511.50 1712.12,1511.50 1715.15,1511.50 1718.18,1511.50 1721.21,1511.50 1724.24,1511.50 1727.27,1511.65 1730.30,1512.96 1733.33,1511.50 1736.36,1511.50 1739.39,1511.50 1742.42,1511.50 1745.45,1511.50 1748.48,1511.50 1751.52,1511.50 1754.55,1511.50 1757.58,1511.50 1760.61,1511.50 1763.64,1511.50 1766.67,1511.50 1769.70,1513.84 1772.73,1511.74 1775.76,1511.50 1778.79,1511.50 1781.82,1511.50 1784.85,1511.50 1787.88,1511.50 1790.91,1511.50 1793.94,1511.50 1796.97,1511.50 1800.00,1511.50 1803.05,1511.51 1806.10,1511.52 1809.15,1511.54 1812.20,1511.55 1815.24,1511.56 1818.29,1511.57 1821.34,1511.59 1824.39,1511.60 1827.44,1511.61 1830.49,1511.62 1833.54,1511.63 1836.59,1511.65 1839.63,1511.66 1842.68,1511.67 1845.73,1511.68 1848.78,1511.70 1851.83,1511.71 1854.88,1511.72 1857.93,1511.73 1860.98,1511.74 1864.02,1512.42 1867.07,1513.02 1870.12,1511.78 1873.17,1511.79 1876.22,1511.80 1879.27,1511.82 1882.32,1511.83 1885.37,1511.84 1888.41,1511.85 1891.46,1511.87 1894.51,1511.88 1897.56,1511.89 1900.61,1511.90 1903.66,1511.91 1906.71,1511.93 1909.76,1511.94 1912.80,1511.95 1915.85,1511.96 1918.90,1511.98 1921.95,1511.99 1925.00,1512.00 1928.02,1512.03 1931.03,1512.05 1934.05,1512.08 1937.07,1512.80 1940.09,1513.37 1943.10,1512.16 1946.12,1512.18 1949.14,1512.21 1952.16,1512.23 1955.17,1513.67 1958.19,1512.81 1961.21,1512.31 1964.22,1512.34 1967.24,1512.36 1970.26,1512.39 1973.28,1512.41 1976.29,1512.44 1979.31,1512.47 1982.33,1512.49 1985.34,1512.52 1988.36,1512.54 1991.38,1512.57 1994.40,1512.59 1997.41,1512.62 2000.43,1512.65 2003.45,1512.67 2006.47,1512.70 2009.48,1512.72 2012.50,1512.75 2015.52,1512.78 2018.53,1512.80 2021.55,1512.83 2024.57,1512.85 2027.59,1512.88 2030.60,1512.91 2033.62,1512.93 2036.64,1512.96 2039.66,1514.42 2042.67,1514.16 2045.69,1513.03 2048.71,1513.06 2051.72,1513.09 2054.74,1513.11 2057.76,1513.14 2060.78,1513.16 2063.79,1513.19 2066.81,1513.22 2069.83,1513.24 2072.84,1513.27 2075.86,1513.29 2078.88,1513.32 2081.90,1513.34 2084.91,1513.37 2087.93,1513.40 2090.95,1513.42 2093.97,1513.45 2096.98,1513.47 2100.00,1513.50 2103.00,1513.50 2106.00,1513.50 2109.00,1513.50 2112.00,1513.50 2115.00,1513.50 2118.00,1513.50 2121.00,1513.50 2124.00,1513.50 2127.00,1513.50 2130.00,1513.50 2133.00,1513.50 2136.00,1513.50 2139.00,1513.50 2142.00,1513.50 2145.00,1513.50 2148.00,1513.50 2151.00,1513.50 2154.00,1513.50 2157.00,1513.50 2160.00,1513.50 2163.00,1513.50 2166.00,1513.50 2169.00,1513.50 2172.00,1513.50 2175.00,1513.50 2178.00,1513.50 2181.00,1513.50 2184.00,1513.50 2187.00,1513.50 2190.00,1513.50 2193.00,1513.50 2196.00,1512.63 2199.00,1511.77 2202.00,1513.50" fill="none" stroke="#d92520" stroke-width="10.5" stroke-linejoin="miter" stroke-miterlimit="2"/>
<polyline points="822.30,762.60 829.00,762.00 839.00,728.00 847.50,728.00 852.50,706.50 866.00,700.50 872.50,675.00 880.00,672.50 892.50,670.00 898.75,636.25 907.50,638.75 917.50,627.50 928.75,603.75 938.75,600.00 946.25,583.75 955.00,577.50 970.00,576.25 975.00,552.50 982.50,558.75 990.00,548.75 1002.50,552.50 1010.00,543.75 1018.75,543.75 1022.50,535.00 1027.50,551.25 1036.25,566.25 1041.25,556.25 1055.00,587.50 1061.25,565.00 1073.75,595.00 1081.25,598.75 1087.50,573.75 1095.00,603.75 1107.50,608.75 1120.00,596.25 1132.50,628.75 1140.00,631.25 1147.50,640.00 1152.50,642.50 1162.50,672.50 1172.50,680.00 1180.00,705.00 1185.00,715.00 1190.00,732.50 1196.25,740.00 1202.50,762.50 1215.00,767.50 1222.50,775.00 1236.25,796.25 1242.50,786.25 1257.50,793.75 1272.50,788.75 1282.50,800.00 1290.00,796.25 1295.00,768.75 1301.25,781.25 1310.00,773.75 1317.50,772.50 1321.25,758.75 1328.75,772.50 1335.00,736.25 1342.50,758.75 1348.75,723.75 1363.75,727.50 1366.25,697.50 1381.25,700.00 1386.25,685.00 1392.50,653.75 1400.00,652.50 1406.25,641.25 1413.75,645.00 1418.75,617.50 1426.25,633.75 1432.50,585.00 1437.50,602.50 1448.75,567.50 1458.75,580.00 1470.00,535.00 1476.25,512.50 1483.75,527.50 1495.00,491.25 1503.75,492.50 1511.25,472.50 1523.75,472.50 1531.25,466.25 1538.75,471.25 1542.50,442.50 1551.25,441.25 1562.50,410.00 1568.75,417.50 1575.00,391.25 1583.75,402.50 1588.75,386.25 1601.25,380.00 1611.25,378.75 1620.00,361.25 1628.75,360.00 1635.00,330.00 1641.25,340.00 1648.75,337.50 1655.00,320.00 1663.75,318.75 1668.75,326.25 1673.75,315.00 1677.50,327.50 1692.50,325.00 1705.00,361.25 1712.50,355.00 1723.75,387.50 1731.25,372.50 1742.50,412.50 1760.00,412.50 1763.75,427.50 1771.25,417.50 1776.25,447.50 1783.75,456.25 1797.50,458.75 1803.75,490.00 1817.50,472.50 1827.50,510.00 1840.00,530.00 1847.50,548.75 1856.25,560.00 1860.90,584.10 1875.40,587.30 1888.20,635.50 1896.30,646.80 1912.30,714.30 1920.40,733.60 1926.80,760.90 1934.80,764.10 1939.60,801.10 1946.10,785.00 1958.90,849.30 1963.80,855.70 1971.80,850.90 1978.20,887.90 1986.30,883.00 1992.70,895.90" fill="none" stroke="#1f1c18" stroke-width="6.3" stroke-linejoin="miter" stroke-miterlimit="2"/>
<polyline points="822.50,865.00 835.00,865.00 840.00,873.75 847.50,872.50 852.50,878.75 860.00,878.75 866.25,871.25 872.50,878.75 885.00,870.00 892.50,880.00 902.50,883.75 911.25,882.50 917.50,890.00 923.75,886.25 930.00,870.00 936.25,890.00 943.75,893.75 950.00,901.25 957.50,907.50 965.00,915.00 975.00,917.50 982.50,907.50 992.50,911.25 1002.50,910.00 1010.00,915.00 1017.50,915.00 1025.00,927.50 1032.50,936.25 1041.25,937.50 1048.75,946.25 1055.00,921.25 1061.25,945.00 1070.00,938.75 1073.75,970.00 1080.00,940.00 1088.75,950.00 1095.00,950.00 1100.00,942.50 1107.50,960.00 1116.25,961.25 1125.00,968.75 1133.75,965.00 1138.75,981.25 1146.25,970.00 1158.75,970.00 1171.25,980.00 1176.25,960.00 1185.00,965.00 1190.00,987.50 1197.50,975.00 1203.75,990.00 1215.00,980.00 1230.00,985.00 1240.00,995.00 1247.50,987.50 1257.50,988.75 1268.75,1012.50 1273.75,990.00 1281.25,1007.50 1295.00,1005.00 1302.50,993.75 1312.50,996.25 1321.25,1010.00 1327.50,998.75 1336.25,1000.00 1342.50,986.25 1348.75,1015.00 1352.50,982.50 1362.50,987.50 1367.50,1002.50 1386.25,1003.75 1392.50,980.00 1405.00,990.00 1415.00,992.50 1418.75,1005.00 1426.25,995.00 1433.75,1005.00 1437.50,991.25 1445.00,1002.50 1451.25,987.50 1458.75,992.50 1466.25,985.00 1477.50,995.00 1485.00,985.00 1497.50,995.00 1503.75,985.00 1512.50,1000.00 1525.00,1006.25 1531.25,1006.25 1536.25,983.75 1543.75,992.50 1550.00,983.75 1556.25,1017.50 1562.50,980.00 1568.75,1001.25 1580.00,993.75 1588.75,1002.50 1595.00,1002.50 1601.25,1016.25 1608.75,991.25 1620.00,997.50 1636.25,981.25 1640.00,1023.75 1645.00,985.00 1655.00,977.50 1661.25,1008.75 1665.00,992.50 1672.50,1003.75 1678.75,985.00 1690.00,986.25 1698.75,1006.25 1705.00,991.25 1713.75,987.50 1717.50,1030.00 1723.75,981.25 1732.50,998.75 1742.50,1020.00 1752.50,1017.50 1763.75,1001.25 1771.25,1025.00 1775.00,993.75 1782.50,1012.50 1790.00,1017.50 1796.25,1001.25 1810.00,1012.50 1817.50,1000.00 1822.50,1020.00 1835.00,1013.75 1845.00,1021.25 1856.25,1041.25 1861.25,1020.00 1868.90,1010.00 1877.00,1021.30 1881.80,1019.70 1889.80,1040.60 1901.10,1005.20 1907.50,1048.60 1913.90,1010.00 1922.00,1008.40 1934.80,1067.90 1939.60,1035.70 1952.50,1051.80 1963.80,1051.80 1975.00,1066.30 1987.90,1053.40 1992.70,1051.80" fill="none" stroke="#d92520" stroke-width="6.3" stroke-linejoin="miter" stroke-miterlimit="2"/>
<line x1="1507.5" y1="56.2" x2="1739.2" y2="56.2" stroke="#1f1c18" stroke-width="11"/>
<line x1="1510.8" y1="173.2" x2="1742.5" y2="173.2" stroke="#d92520" stroke-width="11"/>
<g font-family="Liberation Sans, Arial, sans-serif" font-weight="bold">
<text x="1759.20" y="89.30" font-size="65" fill="#1f1c18" >hFADS6</text>
<text x="1759.20" y="205.80" font-size="65" fill="#d92520" >D238A-hFADS6</text>
<text x="0" y="0" font-size="77.5" fill="#1f1c18" transform="translate(159.50,431.70) scale(0.95,1)">0.4</text>
<text x="0" y="0" font-size="77.5" fill="#1f1c18" transform="translate(160.35,998.20) scale(0.95,1)">0.2</text>
<text x="0" y="0" font-size="77.5" fill="#1f1c18" transform="translate(160.00,1545.40) scale(0.95,1)">0.0</text>
<text x="412.80" y="1604.40" font-size="76" fill="#1f1c18" >300.0</text>
<text x="979.85" y="1604.40" font-size="76" fill="#1f1c18" >400.0</text>
<text x="1546.40" y="1604.40" font-size="76" fill="#1f1c18" >500.0</text>
<text x="2113.20" y="1604.40" font-size="76" fill="#1f1c18" >600.0</text>
<text x="961.50" y="1723.30" font-size="76" fill="#1f1c18" >Wavelenght (nm)</text>
<text x="0" y="0" font-size="76.3" fill="#1f1c18" transform="translate(85.2,1148.3) rotate(-90)">Absorbance (A.U.)</text>
<text x="0" y="0" font-size="56" fill="#1f1c18" transform="translate(713.30,394.30) scale(0.93,1)">0.04</text>
<text x="0" y="0" font-size="56" fill="#1f1c18" transform="translate(714.35,746.20) scale(0.93,1)">0.02</text>
<text x="0" y="0" font-size="56" fill="#1f1c18" transform="translate(714.35,1098.10) scale(0.93,1)">0.00</text>
<text x="0" y="0" font-size="56" fill="#1f1c18" transform="translate(949.30,1137.80) scale(0.93,1)">350.0</text>
<text x="0" y="0" font-size="56" fill="#1f1c18" transform="translate(1262.15,1137.80) scale(0.93,1)">400.0</text>
<text x="0" y="0" font-size="56" fill="#1f1c18" transform="translate(1594.55,1137.80) scale(0.93,1)">450.0</text>
<text x="0" y="0" font-size="56" fill="#1f1c18" transform="translate(1927.40,1137.80) scale(0.93,1)">500.0</text>
<text x="1202.10" y="1254.60" font-size="65" fill="#1f1c18" >Wavelenght (nm)</text>
<text x="0" y="0" font-size="65.3" fill="#1f1c18" transform="translate(639.1,953.9) rotate(-90)">Absorbance (A.U.)</text>
</g>
</svg></body></html>
